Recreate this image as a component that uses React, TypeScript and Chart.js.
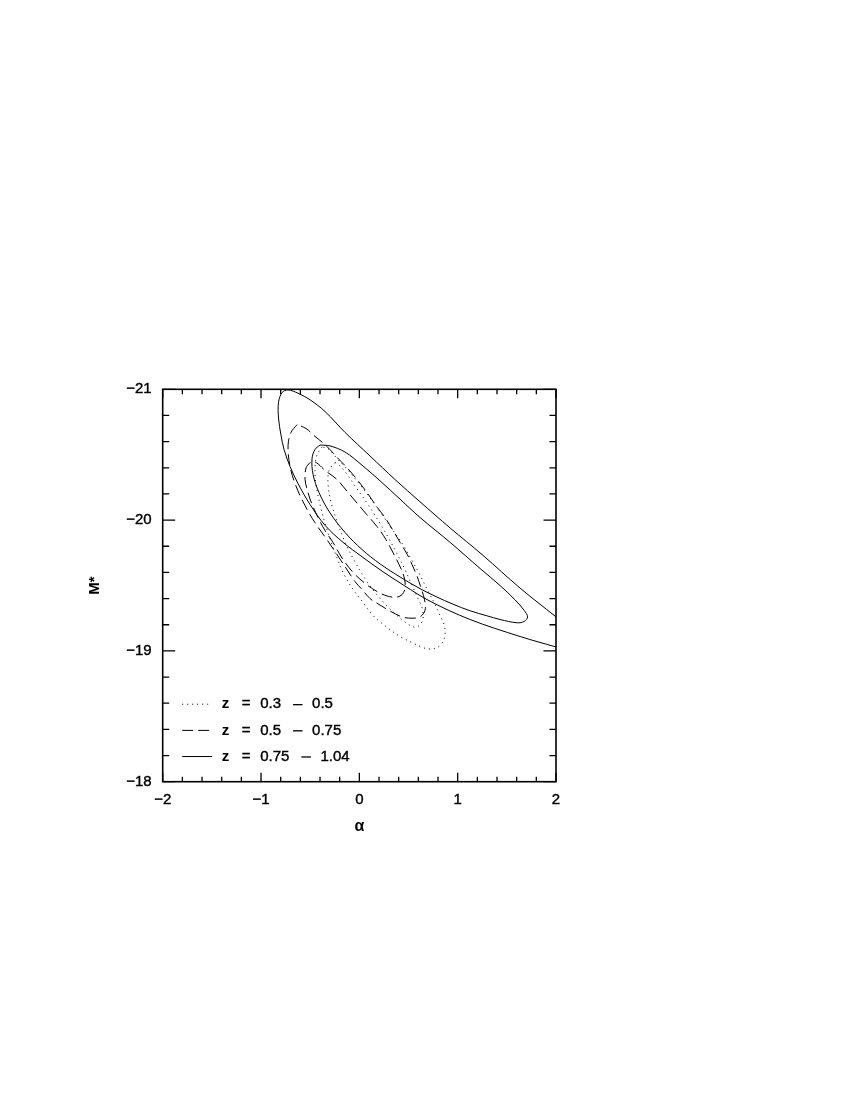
import React, { useEffect, useRef } from "react";
import { Chart, registerables } from "chart.js";

Chart.register(...registerables);

// ---- Data (alpha, M*) ----
const solidOuterAlpha = [2.0, 1.635, 1.258, 0.923, 0.617, 0.363, 0.109, -0.145, -0.349, -0.502, -0.624, -0.725, -0.786, -0.822, -0.822, -0.797, -0.766, -0.705, -0.624, -0.502, -0.349, -0.166, 0.027, 0.231, 0.455, 0.719, 1.126, 1.635, 2.0];
const solidOuterM = [-19.26, -19.48, -19.73, -19.94, -20.14, -20.31, -20.49, -20.67, -20.83, -20.92, -20.97, -20.995, -20.975, -20.9, -20.78, -20.65, -20.54, -20.41, -20.28, -20.12, -19.96, -19.83, -19.72, -19.61, -19.5, -19.38, -19.24, -19.11, -19.03];

const solidInnerAlpha = [-0.4, -0.298, -0.145, 0.027, 0.211, 0.414, 0.617, 0.923, 1.228, 1.431, 1.584, 1.676, 1.711, 1.676, 1.604, 1.431, 1.299, 1.126, 0.953, 0.78, 0.617, 0.414, 0.211, 0.027, -0.145, -0.298, -0.41, -0.471, -0.481, -0.451, -0.4];
const solidInnerM = [-20.574, -20.567, -20.52, -20.42, -20.3, -20.16, -20.02, -19.83, -19.63, -19.5, -19.39, -19.31, -19.26, -19.225, -19.215, -19.24, -19.268, -19.307, -19.357, -19.415, -19.476, -19.565, -19.665, -19.775, -19.905, -20.055, -20.21, -20.35, -20.47, -20.54, -20.574];

const dashedOuterAlpha = [-0.634, -0.695, -0.725, -0.705, -0.644, -0.552, -0.451, -0.329, -0.186, -0.044, 0.027, 0.109, 0.211, 0.312, 0.434, 0.536, 0.617, 0.668, 0.663, 0.628, 0.587, 0.536, 0.485, 0.414, 0.343, 0.261, 0.18, 0.078, -0.023, -0.125, -0.227, -0.339, -0.451, -0.542, -0.634];
const dashedOuterM = [-20.73, -20.67, -20.57, -20.41, -20.26, -20.11, -19.98, -19.85, -19.69, -19.53, -19.47, -19.4, -19.35, -19.305, -19.26, -19.25, -19.26, -19.31, -19.39, -19.48, -19.57, -19.66, -19.74, -19.83, -19.92, -20.02, -20.1, -20.21, -20.31, -20.4, -20.48, -20.57, -20.64, -20.7, -20.73];

const dashedInnerAlpha = [-0.502, -0.542, -0.552, -0.522, -0.481, -0.42, -0.349, -0.268, -0.176, -0.064, 0.068, 0.19, 0.282, 0.373, 0.434, 0.465, 0.455, 0.404, 0.343, 0.272, 0.18, 0.078, -0.023, -0.125, -0.227, -0.349, -0.44, -0.502];
const dashedInnerM = [-20.44, -20.4, -20.31, -20.21, -20.12, -20.02, -19.92, -19.83, -19.71, -19.6, -19.51, -19.45, -19.42, -19.41, -19.43, -19.48, -19.565, -19.66, -19.75, -19.85, -19.95, -20.04, -20.13, -20.22, -20.31, -20.38, -20.44, -20.44];

const dottedOuterAlpha = [-0.379, -0.43, -0.451, -0.44, -0.4, -0.339, -0.257, -0.166, -0.064, 0.038, 0.139, 0.282, 0.414, 0.546, 0.668, 0.77, 0.841, 0.872, 0.862, 0.821, 0.76, 0.689, 0.617, 0.536, 0.445, 0.343, 0.231, 0.109, -0.013, -0.125, -0.227, -0.308, -0.379];
const dottedOuterM = [-20.56, -20.5, -20.4, -20.27, -20.12, -19.95, -19.77, -19.6, -19.47, -19.37, -19.27, -19.18, -19.11, -19.06, -19.02, -19.018, -19.06, -19.13, -19.2, -19.27, -19.37, -19.47, -19.58, -19.69, -19.81, -19.92, -20.04, -20.17, -20.29, -20.39, -20.47, -20.54, -20.56];

const dottedInnerAlpha = [-0.247, -0.308, -0.318, -0.288, -0.227, -0.145, -0.044, 0.078, 0.211, 0.343, 0.465, 0.567, 0.617, 0.648, 0.638, 0.597, 0.536, 0.465, 0.384, 0.292, 0.19, 0.078, -0.034, -0.135, -0.207, -0.247];
const dottedInnerM = [-20.44, -20.38, -20.27, -20.14, -19.99, -19.83, -19.68, -19.53, -19.4, -19.3, -19.22, -19.18, -19.2, -19.25, -19.33, -19.4, -19.5, -19.62, -19.74, -19.87, -20.0, -20.13, -20.25, -20.36, -20.42, -20.44];

const xTickLabels = [-2, -1, 0, 1, 2];
const yTickLabels = [-21, -20, -19, -18];
const legendLabels = [
  ["0.3", "0.5"],
  ["0.5", "0.75"],
  ["0.75", "1.04"],
];
const legendRowM = [-18.6, -18.4, -18.2];

const FONT = '"Liberation Sans", Helvetica, Arial, sans-serif';
const DOT = [1, 4];
const DASH = [11, 5];

function pts(xs: number[], ys: number[]) {
  return xs.map((x, i) => ({ x, y: ys[i] }));
}

function fmt(v: number) {
  return String(v).replace("-", "\u2212");
}

function heavyText(ctx: CanvasRenderingContext2D, s: string, x: number, y: number) {
  ctx.fillText(s, x, y);
  ctx.strokeText(s, x, y);
}

const framePlugin = {
  id: "frameTicksLegend",
  afterDatasetsDraw(chart: any) {
    const { ctx, chartArea: a, scales } = chart;
    const xs = scales.x;
    const ys = scales.y;
    ctx.save();
    ctx.strokeStyle = "#000";
    ctx.lineWidth = 1.6;
    ctx.setLineDash([]);
    ctx.strokeRect(a.left, a.top, a.right - a.left, a.bottom - a.top);
    ctx.lineWidth = 1.3;
    ctx.beginPath();
    for (let i = 0; i <= 20; i++) {
      const v = -2 + i * 0.2;
      const px = xs.getPixelForValue(v);
      const len = i % 5 === 0 ? 9 : 5;
      ctx.moveTo(px, a.bottom);
      ctx.lineTo(px, a.bottom - len);
      ctx.moveTo(px, a.top);
      ctx.lineTo(px, a.top + len);
    }
    for (let i = 0; i <= 15; i++) {
      const v = -21 + i * 0.2;
      const py = ys.getPixelForValue(v);
      const len = i % 5 === 0 ? 12.5 : 6.5;
      ctx.moveTo(a.left, py);
      ctx.lineTo(a.left + len, py);
      ctx.moveTo(a.right, py);
      ctx.lineTo(a.right - len, py);
    }
    ctx.stroke();

    // legend
    const styles = [DOT, DASH, []];
    const x0 = a.left + 19.5;
    const x1 = a.left + 49.5;
    const tx = a.left + 59;
    ctx.fillStyle = "#000";
    ctx.textBaseline = "middle";
    ctx.textAlign = "left";
    legendLabels.forEach((lab, i) => {
      const py = ys.getPixelForValue(legendRowM[i]) + 1;
      ctx.lineWidth = 1;
      ctx.setLineDash(styles[i] as number[]);
      ctx.beginPath();
      ctx.moveTo(x0, py);
      ctx.lineTo(x1, py);
      ctx.stroke();
      ctx.setLineDash([]);
      ctx.lineWidth = 0.4;
      ctx.font = `bold 15px ${FONT}`;
      ctx.fillText("z", tx, py);
      ctx.font = `15px ${FONT}`;
      heavyText(ctx, "=", tx + 20, py);
      const loX = tx + 38.5;
      heavyText(ctx, lab[0], loX, py);
      const dashX = loX + ctx.measureText(lab[0]).width + 12;
      ctx.fillRect(dashX, py - 0.2, 9.5, 1.3);
      const hiX = dashX + 9.5 + 9.5;
      heavyText(ctx, lab[1], hiX, py);
    });
    ctx.restore();
  },
};

export default function App() {
  const ref = useRef<HTMLCanvasElement>(null);
  useEffect(() => {
    if (!ref.current) return;
    const line = (xs: number[], ys: number[], dash: number[]) => ({
      data: pts(xs, ys),
      showLine: true,
      borderColor: "#000",
      backgroundColor: "#000",
      borderWidth: 1,
      borderDash: dash,
      pointRadius: 0,
      tension: 0.35,
      fill: false,
    });
    const tickFont = { family: FONT, size: 15 };
    const chart = new Chart(ref.current, {
      type: "scatter",
      data: {
        datasets: [
          line(dottedOuterAlpha, dottedOuterM, DOT),
          line(dottedInnerAlpha, dottedInnerM, DOT),
          line(dashedOuterAlpha, dashedOuterM, DASH),
          line(dashedInnerAlpha, dashedInnerM, DASH),
          line(solidOuterAlpha, solidOuterM, []),
          line(solidInnerAlpha, solidInnerM, []),
        ] as any,
      },
      options: {
        responsive: false,
        animation: false,
        layout: { padding: { top: 381.3, right: 286, bottom: 248, left: 74 } },
        plugins: { legend: { display: false }, tooltip: { enabled: false } },
        scales: {
          x: {
            type: "linear",
            min: -2,
            max: 2,
            grid: { display: false, drawTicks: false },
            border: { display: false },
            afterBuildTicks: (s: any) => {
              s.ticks = xTickLabels.map((v) => ({ value: v }));
            },
            afterFit: (s: any) => {
              s.height = 58.3;
            },
            ticks: {
              color: "#000",
              padding: 9,
              maxRotation: 0,
              autoSkip: false,
              font: tickFont,
              textStrokeColor: "#000",
              textStrokeWidth: 0.4,
              callback: (v: any) => fmt(Number(v)),
            },
            title: {
              display: true,
              text: "\u03b1",
              color: "#000",
              font: { family: FONT, size: 16, weight: "bold" },
            },
          },
          y: {
            type: "linear",
            min: -21,
            max: -18,
            reverse: true,
            grid: { display: false, drawTicks: false },
            border: { display: false },
            afterBuildTicks: (s: any) => {
              s.ticks = yTickLabels.map((v) => ({ value: v }));
            },
            afterFit: (s: any) => {
              s.width = 80.7;
            },
            ticks: {
              color: "#000",
              padding: 11,
              autoSkip: false,
              font: tickFont,
              textStrokeColor: "#000",
              textStrokeWidth: 0.4,
              callback: (v: any) => fmt(Number(v)),
            },
            title: {
              display: true,
              text: "M*",
              color: "#000",
              font: { family: FONT, size: 15, weight: "bold" },
            },
          },
        },
      },
      plugins: [framePlugin],
    } as any);
    return () => chart.destroy();
  }, []);
  return (
    <div style={{ width: 834, height: 1080 }}>
      <canvas ref={ref} width={834} height={1080} style={{ display: "block" }} />
    </div>
  );
}
